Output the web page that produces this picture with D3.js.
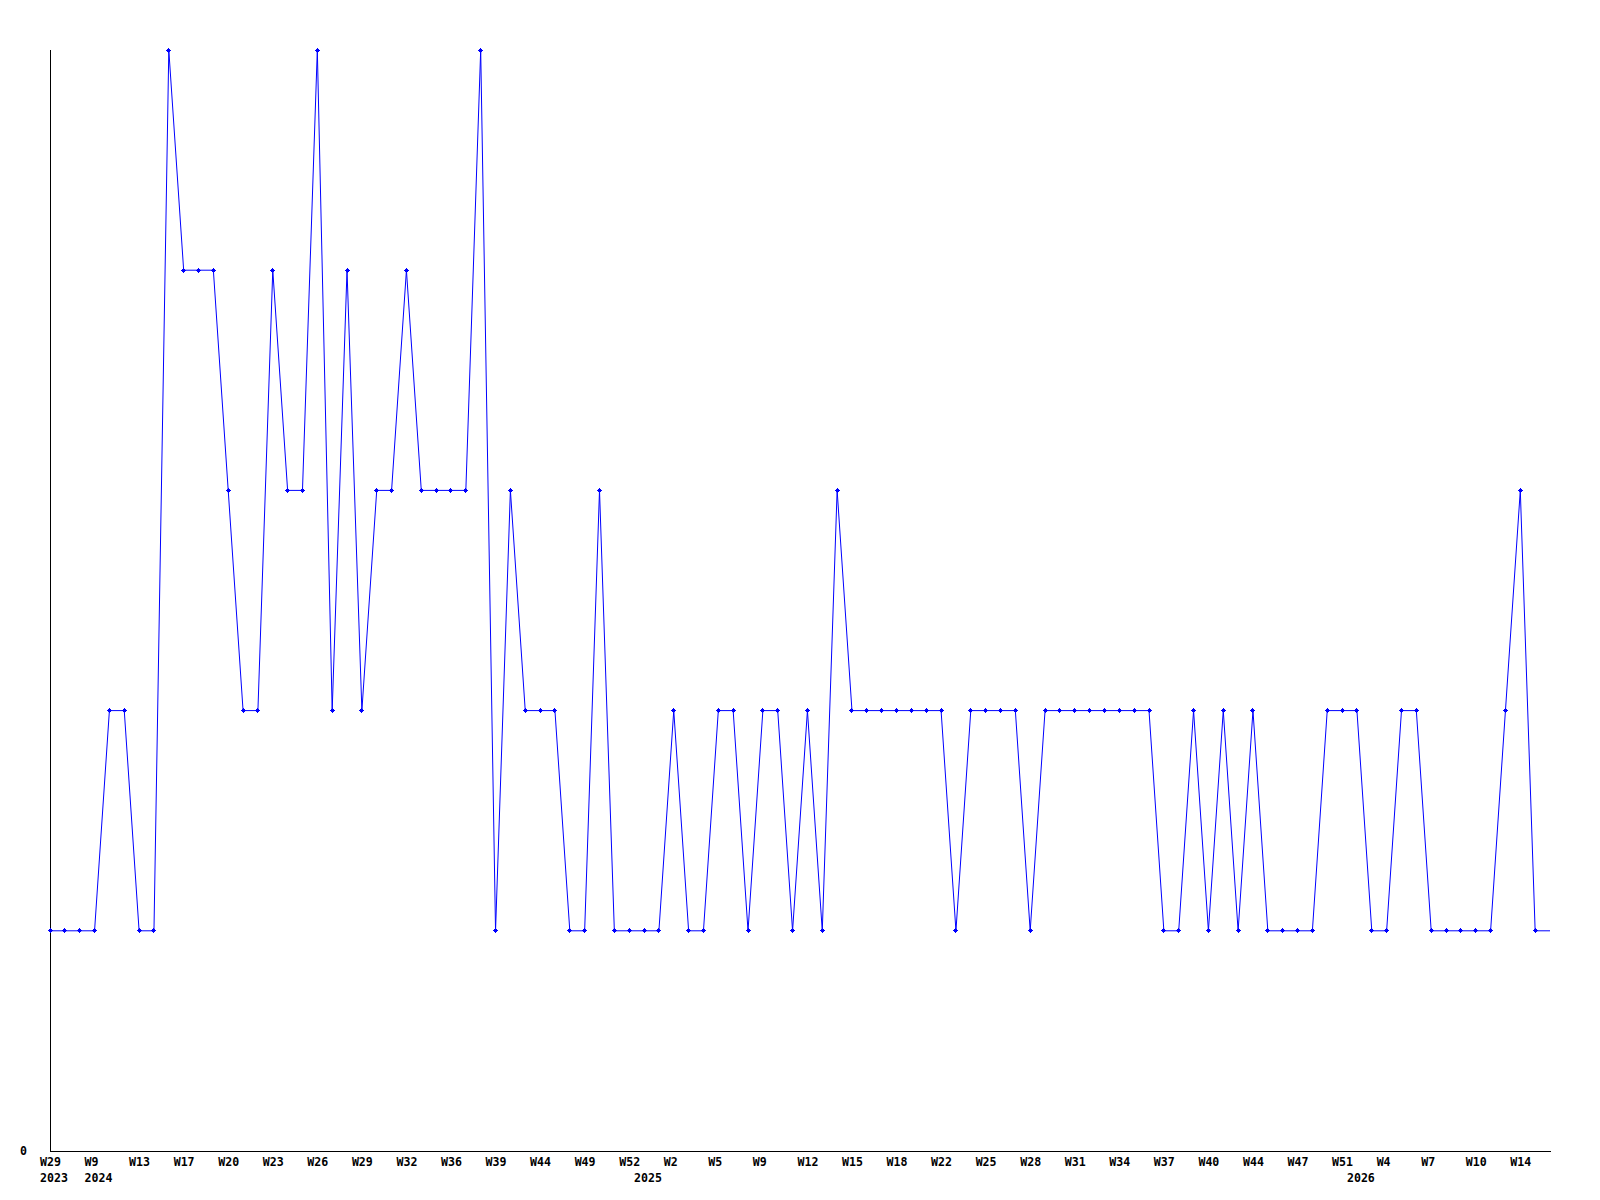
<!DOCTYPE html>
<html>
<head>
<meta charset="utf-8">
<script src="https://cdn.jsdelivr.net/npm/d3@7"></script>
<style>
  body { margin: 0; background: #fff; }
  text { font-family: "DejaVu Sans Mono", monospace; font-weight: bold; font-size: 11.6px; fill: #000; }
</style>
</head>
<body>
<div id="chart"></div>
<script>
// weekly values, one per point (last one is the open week, no marker)
var values = [
    1, 1, 1, 1, 2, 2, 1, 1, 5, 4,
    4, 4, 3, 2, 2, 4, 3, 3, 5, 2,
    4, 2, 3, 3, 4, 3, 3, 3, 3, 5,
    1, 3, 2, 2, 2, 1, 1, 3, 1, 1,
    1, 1, 2, 1, 1, 2, 2, 1, 2, 2,
    1, 2, 1, 3, 2, 2, 2, 2, 2, 2,
    2, 1, 2, 2, 2, 2, 1, 2, 2, 2,
    2, 2, 2, 2, 2, 1, 1, 2, 1, 2,
    1, 2, 1, 1, 1, 1, 2, 2, 2, 1,
    1, 2, 2, 1, 1, 1, 1, 1, 2, 3,
    1, 1
];

// a week label every third point
var weekLabels = ["W29", "W9", "W13", "W17", "W20", "W23", "W26", "W29", "W32", "W36",
    "W39", "W44", "W49", "W52", "W2", "W5", "W9", "W12", "W15", "W18",
    "W22", "W25", "W28", "W31", "W34", "W37", "W40", "W44", "W47", "W51",
    "W4", "W7", "W10", "W14"];
var labelEvery = 3;

// first point of each year
var yearIndex = [0, 3, 40, 88];
var yearLabels = ["2023", "2024", "2025", "2026"];

var margin = {top: 50, right: 50, bottom: 49, left: 50};
var width = 1600, height = 1200;

var svg = d3.select("#chart").append("svg")
    .attr("width", width)
    .attr("height", height);

var x = d3.scaleLinear()
    .domain([0, values.length - 1])
    .range([margin.left, width - margin.right]);

var y = d3.scaleLinear()
    .domain([0, 5])
    .range([height - margin.bottom, margin.top]);

// axes
svg.append("line")
    .attr("x1", x(0) + 0.5).attr("x2", x(0) + 0.5)
    .attr("y1", y(5)).attr("y2", y(0))
    .attr("stroke", "#000").attr("shape-rendering", "crispEdges");

svg.append("line")
    .attr("x1", x(0)).attr("x2", x(values.length - 1) + 1)
    .attr("y1", y(0) + 0.5).attr("y2", y(0) + 0.5)
    .attr("stroke", "#000").attr("shape-rendering", "crispEdges");

svg.append("text")
    .attr("x", 27)
    .attr("y", y(0) + 4)
    .attr("text-anchor", "end")
    .text("0");

// week labels
svg.selectAll(".wk")
    .data(weekLabels)
    .enter().append("text")
    .attr("class", "wk")
    .attr("x", function(d, i) { return x(i * labelEvery) - 10; })
    .attr("y", y(0) + 15)
    .text(function(d) { return d; });

// year labels
svg.selectAll(".yr")
    .data(yearLabels)
    .enter().append("text")
    .attr("class", "yr")
    .attr("x", function(d, i) { return x(yearIndex[i]) - 10; })
    .attr("y", y(0) + 31)
    .text(function(d) { return d; });

// the line
var line = d3.line()
    .x(function(d, i) { return x(i); })
    .y(function(d) { return y(d); });

svg.append("path")
    .datum(values)
    .attr("d", line)
    .attr("fill", "none")
    .attr("stroke", "#0000ff")
    .attr("stroke-width", 1);

// small plus markers with a solid centre
var pts = values.slice(0, values.length - 1);
svg.selectAll(".mk")
    .data(pts)
    .enter().append("path")
    .attr("class", "mk")
    .attr("d", function(d, i) {
        var cx = Math.floor(x(i)), cy = Math.floor(y(d));
        return "M" + (cx - 2) + "," + cy + "h5v1h-5z" +
            "M" + cx + "," + (cy - 2) + "h1v5h-1z" +
            "M" + (cx - 1) + "," + (cy - 1) + "h3v3h-3z";
    })
    .attr("fill", "#0000ff")
    .attr("shape-rendering", "crispEdges");
</script>
</body>
</html>
